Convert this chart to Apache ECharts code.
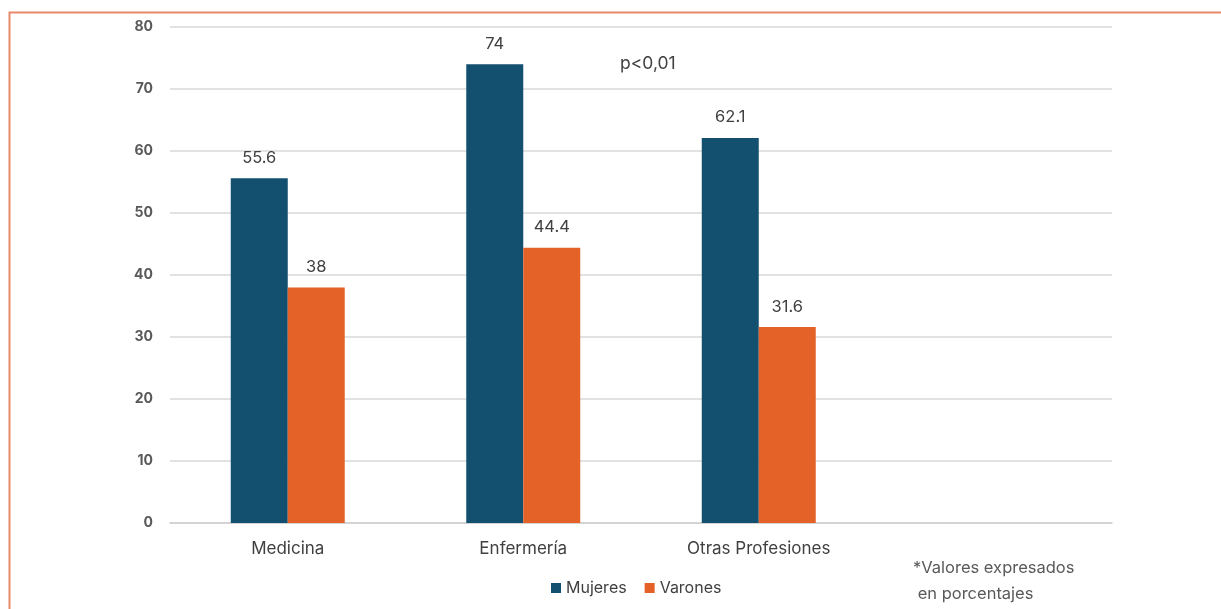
<!DOCTYPE html>
<html>
<head>
<meta charset="utf-8">
<script src="https://cdn.jsdelivr.net/npm/echarts@6/dist/echarts.min.js"></script>
<style>
  html, body { margin: 0; padding: 0; background: #fff; }
  #chart { width: 1221px; height: 609px; }
</style>
</head>
<body>
<div id="chart"></div>
<script>
// Professions (the fourth slot is left empty for the note)
const categories = ['Medicina', 'Enfermería', 'Otras Profesiones', ''];
const mujeres = [55.6, 74, 62.1, null];
const varones = [38, 44.4, 31.6, null];
const yTicks = [0, 10, 20, 30, 40, 50, 60, 70, 80];

const NAVY = '#134F6F';
const ORANGE = '#E46127';
const FONT = 'Inter, "Noto Sans", sans-serif';

const chart = echarts.init(document.getElementById('chart'), null, { renderer: 'canvas' });

const labelStyle = {
  show: true,
  position: 'top',
  distance: 12,
  color: '#404040',
  fontSize: 16.5,
  fontFamily: FONT
};

chart.setOption({
  animation: false,
  backgroundColor: '#fff',
  textStyle: { fontFamily: FONT },
  grid: { left: 170, right: 109, top: 27, bottom: 86, containLabel: false },
  legend: {
    bottom: 8,
    left: 546,
    itemWidth: 10,
    itemHeight: 10,
    itemGap: 18,
    icon: 'rect',
    textStyle: { color: '#404040', fontSize: 16, fontFamily: FONT },
    data: ['Mujeres', 'Varones']
  },
  xAxis: {
    type: 'category',
    data: categories,
    axisLine: { show: true, lineStyle: { color: '#d0d0d0', width: 1.5 } },
    axisTick: { show: false },
    axisLabel: { color: '#404040', fontSize: 17, margin: 17, fontFamily: FONT }
  },
  yAxis: {
    type: 'value',
    min: yTicks[0],
    max: yTicks[yTicks.length - 1],
    interval: 10,
    axisLine: { show: false },
    axisTick: { show: false },
    axisLabel: { color: '#595959', fontSize: 14, fontWeight: 'bold', margin: 17, fontFamily: FONT },
    splitLine: { lineStyle: { color: '#d9d9d9', width: 1.5 } }
  },
  series: [
    {
      name: 'Mujeres',
      type: 'bar',
      data: mujeres,
      barGap: '0%',
      barCategoryGap: '51.6%',
      itemStyle: { color: NAVY },
      label: labelStyle
    },
    {
      name: 'Varones',
      type: 'bar',
      data: varones,
      itemStyle: { color: ORANGE },
      label: labelStyle
    }
  ],
  graphic: [
    {
      type: 'rect',
      shape: { x: 9.5, y: 12.5, width: 1300, height: 700 },
      style: { fill: 'none', stroke: '#E8896A', lineWidth: 2 },
      silent: true
    },
    {
      type: 'text',
      left: 620,
      top: 55,
      style: { text: 'p<0,01', fill: '#404040', fontSize: 17.5, fontFamily: FONT }
    },
    {
      type: 'text',
      left: 913,
      top: 555,
      style: {
        text: '*Valores expresados\n en porcentajes',
        fill: '#595959',
        fontSize: 16.5,
        lineHeight: 26,
        fontFamily: FONT
      }
    }
  ]
});
</script>
</body>
</html>
